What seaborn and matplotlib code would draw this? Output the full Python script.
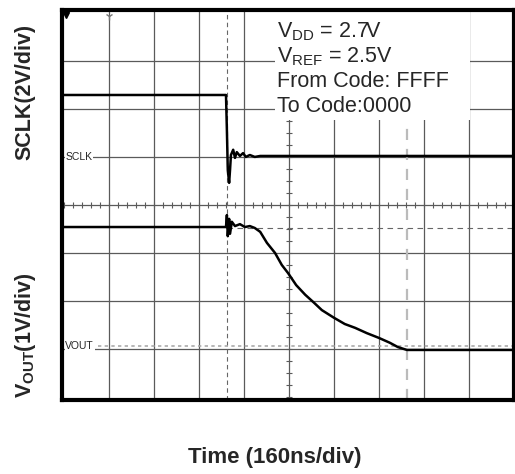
import numpy as np
import pandas as pd
import matplotlib.pyplot as plt
from matplotlib.patches import Rectangle
import seaborn as sns

# trace values, in divisions (x: 10 div, y: 8 div)
sclk_t = [0, 3.60, 3.62, 3.64, 3.67, 3.69, 3.71, 3.76, 3.80, 3.84, 3.91, 3.98,
          4.04, 4.13, 4.24, 4.36, 10.0]
sclk_v = [6.29, 6.29, 5.56, 4.73, 4.46, 4.73, 5.04, 5.15, 4.98, 5.10, 5.02, 5.08,
          5.00, 5.04, 5.00, 5.02, 5.02]

vout_t = [0, 3.60, 3.62, 3.64, 3.67, 3.69, 3.73, 3.80, 3.91, 4.02, 4.13, 4.24,
          4.36, 4.51, 4.69, 4.84, 4.98, 5.16, 5.36, 5.56, 5.73, 6.00, 6.24, 6.47,
          6.73, 7.00, 7.24, 7.42, 7.62, 10.0]
vout_v = [3.54, 3.54, 3.79, 3.35, 3.71, 3.40, 3.65, 3.56, 3.60, 3.54, 3.56, 3.52,
          3.44, 3.21, 3.00, 2.75, 2.58, 2.33, 2.13, 1.96, 1.81, 1.65, 1.52, 1.44,
          1.33, 1.23, 1.13, 1.04, 0.98, 0.98]

cursor_t = [3.62, 7.62]
cursor_v = 3.52
vout_marker = 1.06
sclk_marker = 5.0

info_lines = [r"$\mathrm{V_{DD}}$ = 2.7V", r"$\mathrm{V_{REF}}$ = 2.5V",
              "From Code: FFFF", "To Code:0000"]

sns.set_style("white")
plt.rcParams['font.family'] = ['Liberation Sans', 'DejaVu Sans']
plt.rcParams['mathtext.fontset'] = 'custom'
plt.rcParams['mathtext.rm'] = 'Liberation Sans'
plt.rcParams['mathtext.bf'] = 'Liberation Sans:bold'

W, H = 515, 474
fig = plt.figure(figsize=(W / 100, H / 100), dpi=100)
ax = fig.add_axes([62 / W, (H - 399.5) / H, 452 / W, 389.5 / H])
ax.set_xlim(-0.044, 10.0)
ax.set_ylim(-0.052, 8.06)

# graticule
grid_c = '#5a5a5a'
for gx in range(1, 10):
    ax.axvline(gx, color=grid_c, lw=0.9, zorder=1)
for gy in range(1, 8):
    ax.axhline(gy, color=grid_c, lw=0.9, zorder=1)
ax.plot(np.arange(0, 10.01, 0.2), np.full(51, 4.0), ls='none', marker='|',
        ms=5, mew=0.8, color=grid_c, zorder=1)
ax.plot(np.full(33, 5.0), np.arange(0, 8.01, 0.25), ls='none', marker='_',
        ms=5, mew=0.8, color=grid_c, zorder=1)

# cursors
ax.axvline(cursor_t[0], color='#666666', lw=0.8, ls=(0, (4, 3)), zorder=1.5)
ax.axvline(cursor_t[1], color='#bbbbbb', lw=1.6, ls=(0, (5, 4)), zorder=1.5)
ax.plot([cursor_t[0], 10], [cursor_v, cursor_v], color='#666666', lw=0.8,
        ls=(0, (5, 4)), zorder=1.5)
ax.plot([0.75, 10], [vout_marker, vout_marker], color='#aaaaaa', lw=1.2,
        ls=(0, (2, 2)), zorder=1.5)

# info box
ax.add_patch(Rectangle((4.69, 5.77), 4.33, 2.4, facecolor='white',
                       edgecolor='none', zorder=2))
for i, s in enumerate(info_lines):
    ax.text(4.74, 7.48 - i * 0.515, s, fontsize=15.5, va='baseline',
            ha='left', zorder=4)

df_s = pd.DataFrame({'t': sclk_t, 'v': sclk_v})
df_o = pd.DataFrame({'t': vout_t, 'v': vout_v})
sns.lineplot(data=df_s, x='t', y='v', ax=ax, color='black', lw=1.8,
             sort=False, estimator=None, zorder=3)
sns.lineplot(data=df_o, x='t', y='v', ax=ax, color='black', lw=1.8,
             sort=False, estimator=None, zorder=3)

# channel ground markers
ax.text(0.03, sclk_marker, "SCLK", fontsize=7.5, va='center', ha='left',
        zorder=4, bbox=dict(facecolor='white', edgecolor='none', pad=0.5))
ax.text(0.03, vout_marker, "VOUT", fontsize=7.5, va='center', ha='left',
        zorder=4, bbox=dict(facecolor='white', edgecolor='none', pad=0.5))
ax.plot([1.0], [7.94], marker='1', ms=6, color='#777777', zorder=4)
ax.plot([0.05], [7.96], marker='v', ms=4, color='black', zorder=4)

ax.set_xticks([])
ax.set_yticks([])
ax.set_xlabel('')
ax.set_ylabel('')
for sp in ax.spines.values():
    sp.set_visible(True)
    sp.set_color('black')
    sp.set_linewidth(3)

fig.text(25 / W, 1 - 92 / H, "SCLK(2V/div)", rotation=90, fontsize=15.5,
         fontweight='bold', ha='center', va='center')
fig.text(25 / W, 1 - 335 / H, r"$\mathbf{V_{OUT}}$(1V/div)", rotation=90,
         fontsize=15.5, fontweight='bold', ha='center', va='center')
fig.text(275 / W, 1 - 457 / H, "Time (160ns/div)", fontsize=16,
         fontweight='bold', ha='center', va='center')

fig.savefig('out.png', dpi=100)
